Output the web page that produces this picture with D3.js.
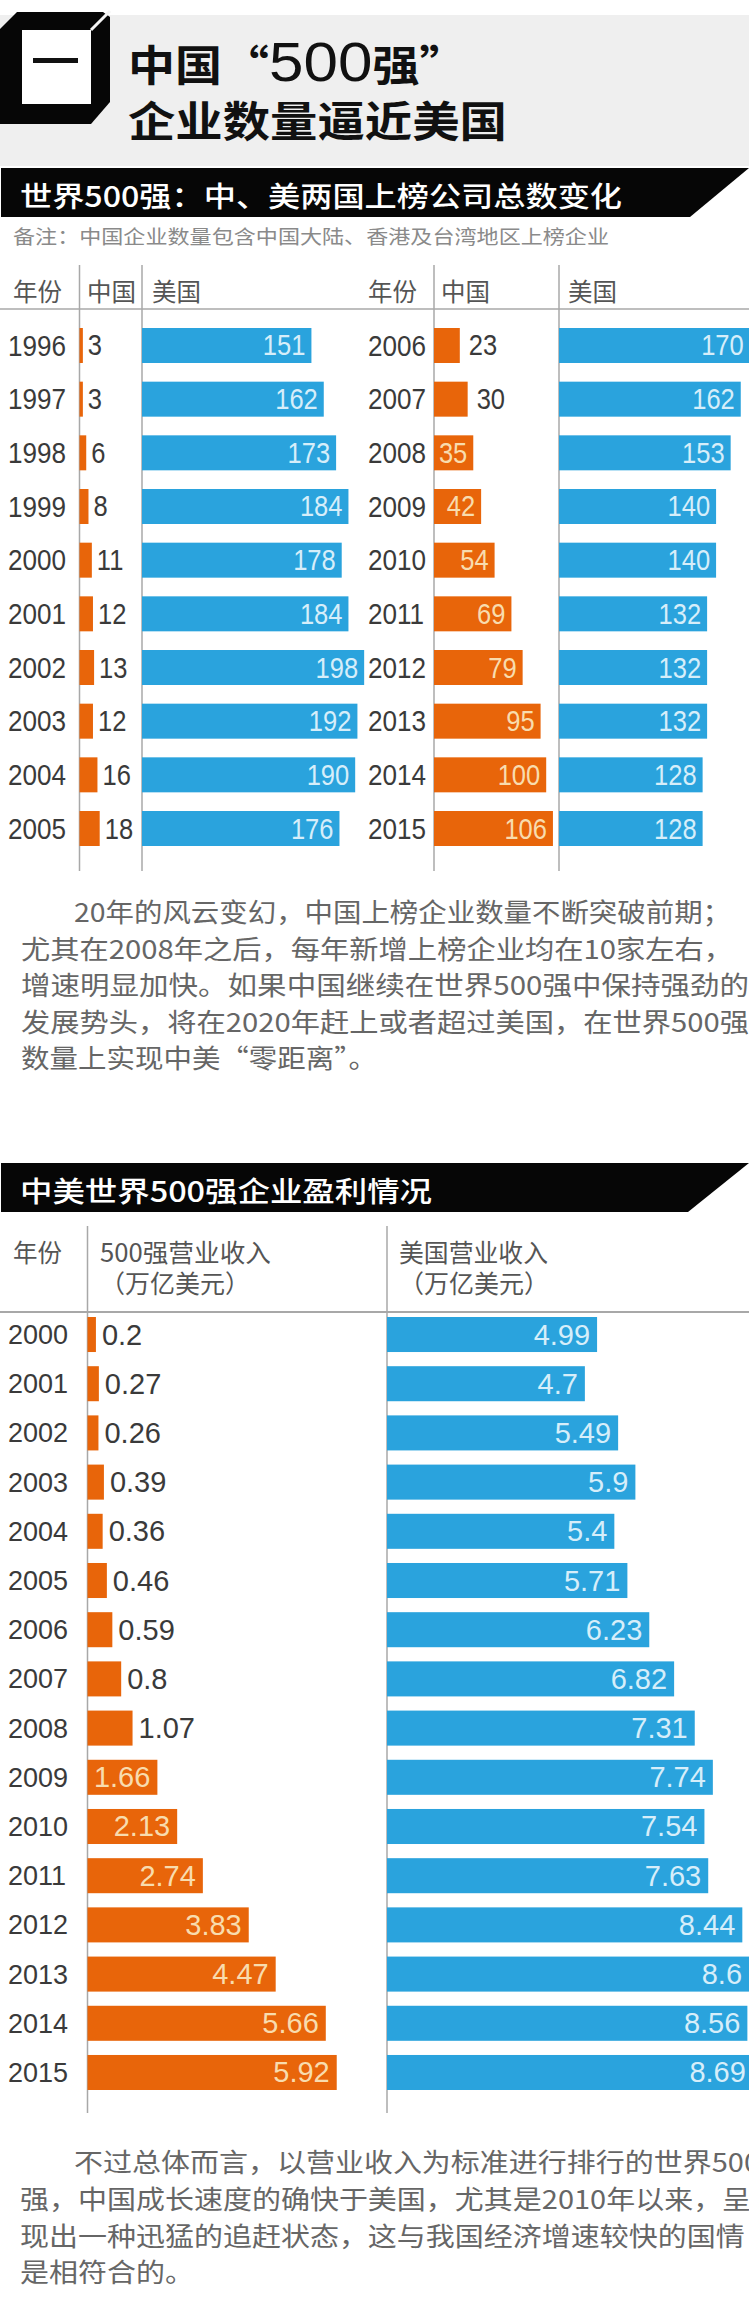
<!DOCTYPE html>
<html>
<head>
<meta charset="utf-8">
<script src="https://cdn.jsdelivr.net/npm/d3@7"></script>
<style>
    html, body { margin: 0; padding: 0; background: #fff; overflow: hidden; }
    svg { display: block; }
    text { font-family: "Liberation Sans", "Noto Sans CJK SC", sans-serif; }
    .cjk { font-family: "Noto Sans CJK SC", sans-serif; }
</style>
</head>
<body>
<svg id="chart" width="749" height="2324"></svg>
<script>
// Top table: companies on the list per year
const yearsA = [1996, 1997, 1998, 1999, 2000, 2001, 2002, 2003, 2004, 2005];
const chinaA = [3, 3, 6, 8, 11, 12, 13, 12, 16, 18];
const usaA = [151, 162, 173, 184, 178, 184, 198, 192, 190, 176];

const yearsB = [2006, 2007, 2008, 2009, 2010, 2011, 2012, 2013, 2014, 2015];
const chinaB = [23, 30, 35, 42, 54, 69, 79, 95, 100, 106];
const usaB = [170, 162, 153, 140, 140, 132, 132, 132, 128, 128];

// Bottom table: revenue in trillion dollars
const revenueYears = [2000, 2001, 2002, 2003, 2004, 2005, 2006, 2007, 2008, 2009, 2010, 2011, 2012, 2013, 2014, 2015];
const revenueChina = ['0.2', '0.27', '0.26', '0.39', '0.36', '0.46', '0.59', '0.8', '1.07', '1.66', '2.13', '2.74', '3.83', '4.47', '5.66', '5.92'];
const revenueUsa = ['4.99', '4.7', '5.49', '5.9', '5.4', '5.71', '6.23', '6.82', '7.31', '7.74', '7.54', '7.63', '8.44', '8.6', '8.56', '8.69'];

const paragraphA = [
    '20年的风云变幻，中国上榜企业数量不断突破前期；',
    '尤其在2008年之后，每年新增上榜企业均在10家左右，',
    '增速明显加快。如果中国继续在世界500强中保持强劲的',
    '发展势头，将在2020年赶上或者超过美国，在世界500强',
    '数量上实现中美“零距离”。'
];
const paragraphB = [
    '不过总体而言，以营业收入为标准进行排行的世界500',
    '强，中国成长速度的确快于美国，尤其是2010年以来，呈',
    '现出一种迅猛的追赶状态，这与我国经济增速较快的国情',
    '是相符合的。'
];

const BLUE = '#2aa3dd';
const ORANGE = '#e8650a';
const INK = '#3a3a3a';
const RULE = '#a8a8a8';

const svg = d3.select('#chart');

// Text helper, sx/sy squeeze the glyphs a little like the source image
function put(x, y, str, opt) {
    const o = Object.assign({ size: 24, fill: INK, sx: 1, sy: 1, anchor: 'start', weight: 400, cjk: true }, opt);
    const t = svg.append('text')
        .attr('transform', `translate(${x},${y}) scale(${o.sx},${o.sy})`)
        .attr('class', o.cjk ? 'cjk' : null)
        .attr('font-size', o.size)
        .attr('font-weight', o.weight)
        .attr('text-anchor', o.anchor)
        .attr('fill', o.fill)
        .text(str);
    if (o.width) t.attr('textLength', o.width / o.sx).attr('lengthAdjust', 'spacingAndGlyphs');
    return t;
}

function sectionBar(top, right, label, labelWidth) {
    svg.append('polygon')
        .attr('points', [[1, top], [749, top], [right, top + 49], [1, top + 49]].join(' '))
        .attr('fill', '#060606');
    put(20, top + 39, label, { size: 32, sy: 0.88, fill: '#fff', weight: 500, width: labelWidth });
}

// One column of bars, label sits inside when the bar is long enough
function barColumn(opt) {
    const g = svg.append('g').attr('transform', `translate(${opt.x0},0)`);
    const data = opt.values.map((v, i) => ({ key: opt.keys[i], label: v, value: +v }));

    g.selectAll('rect')
        .data(data)
        .enter()
        .append('rect')
        .attr('x', 0)
        .attr('y', d => opt.y(d.key))
        .attr('width', d => opt.x(d.value))
        .attr('height', opt.y.bandwidth())
        .attr('fill', opt.color);

    g.selectAll('text')
        .data(data)
        .enter()
        .append('text')
        .attr('transform', d => {
            const inside = d.value >= opt.insideFrom;
            const px = inside ? opt.x(d.value) - opt.inset : opt.x(d.value) + opt.outset;
            const py = opt.y(d.key) + opt.y.bandwidth() / 2 + opt.base;
            return `translate(${px},${py}) scale(${opt.sx},1)`;
        })
        .attr('text-anchor', d => (d.value >= opt.insideFrom ? 'end' : 'start'))
        .attr('font-size', opt.size)
        .attr('fill', d => (d.value >= opt.insideFrom ? opt.pale : INK))
        .text(d => d.label);
}

// Year labels are left aligned in the source, so the axis text is re-anchored
function yearAxis(xLeft, y, size, sx) {
    const axis = d3.axisLeft(y).tickSize(0).tickPadding(0).tickFormat(d3.format('d'));
    const g = svg.append('g').attr('transform', `translate(${xLeft},0)`).call(axis);
    g.select('.domain').remove();
    g.selectAll('text')
        .attr('x', 0)
        .attr('dy', '0.35em')
        .attr('text-anchor', 'start')
        .attr('font-family', '"Liberation Sans", sans-serif')
        .attr('font-size', size)
        .attr('fill', INK)
        .attr('transform', `scale(${sx},1)`);
}

function vRule(x, y1, y2) {
    svg.append('line').attr('x1', x).attr('x2', x).attr('y1', y1).attr('y2', y2)
        .attr('stroke', RULE).attr('stroke-width', 1.5);
}

function hRule(y, width) {
    svg.append('line').attr('x1', 0).attr('x2', 749).attr('y1', y).attr('y2', y)
        .attr('stroke', RULE).attr('stroke-width', width);
}

function drawHeader() {
    svg.append('rect').attr('x', 0).attr('y', 15).attr('width', 749).attr('height', 151).attr('fill', '#efefef');

    // Black box icon, the cut corner is a light diagonal
    svg.append('polygon')
        .attr('points', '17,12 103,12 110,17 110,102 91,124 0,124 0,29')
        .attr('fill', '#060606');
    svg.append('rect').attr('x', 22).attr('y', 30).attr('width', 69).attr('height', 74).attr('fill', '#fff');
    svg.append('line').attr('x1', 91).attr('y1', 30).attr('x2', 110).attr('y2', 11)
        .attr('stroke', '#f4f4f4').attr('stroke-width', 3);
    svg.append('rect').attr('x', 33).attr('y', 58).attr('width', 45).attr('height', 5).attr('fill', '#111');

    const one = put(128, 81, '中国“', { size: 47, sy: 0.9, fill: '#111', weight: 700 });
    one.append('tspan').style('font-family', '"Liberation Sans"').attr('font-size', 62)
        .attr('font-weight', 400).text('500');
    one.append('tspan').text('强”');
    put(128, 137, '企业数量逼近美国', { size: 47, sy: 0.9, fill: '#111', weight: 700, width: 379 });
}

function drawCounts() {
    sectionBar(168, 690, '世界500强：中、美两国上榜公司总数变化', 602);
    put(13, 244, '备注：中国企业数量包含中国大陆、香港及台湾地区上榜企业', { size: 22, sy: 0.9, fill: '#8a8a8a', width: 596 });

    [[13, '年份'], [87, '中国'], [152, '美国'], [368, '年份'], [441, '中国'], [568, '美国']].forEach(h => {
        put(h[0], 301, h[1], { size: 24.5, fill: '#555' });
    });

    [79.5, 142, 434, 559].forEach(x => vRule(x, 265, 871));
    hRule(309, 1.5);

    const x = d3.scaleLinear().domain([0, 200]).range([0, 224.4]);
    const yA = d3.scaleBand().domain(yearsA).range([328, 846]).paddingInner(0.348);
    const yB = d3.scaleBand().domain(yearsB).range([328, 846]).paddingInner(0.348);

    yearAxis(8, yA, 29, 0.9);
    yearAxis(368, yB, 29, 0.9);

    const shared = { x: x, size: 29, sx: 0.88, base: 10, inset: 6, outset: 5, insideFrom: 32 };
    barColumn(Object.assign({}, shared, { x0: 79.5, y: yA, keys: yearsA, values: chinaA, color: ORANGE, pale: '#f8dcae' }));
    barColumn(Object.assign({}, shared, { x0: 142, y: yA, keys: yearsA, values: usaA, color: BLUE, pale: '#d6eefa', insideFrom: 0 }));
    barColumn(Object.assign({}, shared, { x0: 434, y: yB, keys: yearsB, values: chinaB, color: ORANGE, pale: '#f8dcae', outset: 9 }));
    barColumn(Object.assign({}, shared, { x0: 559, y: yB, keys: yearsB, values: usaB, color: BLUE, pale: '#d6eefa', insideFrom: 0 }));

    paragraphA.forEach((line, i) => {
        put(i === 0 ? 74 : 21, 922 + i * 36.6, line, { size: 29, sy: 0.9, fill: '#666', width: [657, 712, 728, 728, 356][i] });
    });
}

function drawRevenue() {
    sectionBar(1163, 688, '中美世界500强企业盈利情况', 412);

    put(13, 1262, '年份', { size: 24.5, fill: '#555' });
    put(100, 1262, '500强营业收入', { size: 25, fill: '#555', width: 171 });
    put(100, 1293, '（万亿美元）', { size: 25, fill: '#555' });
    put(399, 1262, '美国营业收入', { size: 25, fill: '#555', width: 149 });
    put(399, 1293, '（万亿美元）', { size: 25, fill: '#555' });

    [87.5, 387].forEach(x => vRule(x, 1226, 2113));
    hRule(1312, 2);

    const x = d3.scaleLinear().domain([0, 10]).range([0, 421]);
    const y = d3.scaleBand().domain(revenueYears).range([1317, 2090]).paddingInner(0.288);

    yearAxis(8, y, 27, 1);

    const shared = { x: x, y: y, keys: revenueYears, size: 29, sx: 1, base: 10, inset: 7, outset: 6 };
    barColumn(Object.assign({}, shared, { x0: 87.5, values: revenueChina, color: ORANGE, pale: '#f8dcae', insideFrom: 1.5 }));
    barColumn(Object.assign({}, shared, { x0: 387, values: revenueUsa, color: BLUE, pale: '#d6eefa', insideFrom: 0 }));

    paragraphB.forEach((line, i) => {
        put(i === 0 ? 74 : 20, 2172 + i * 36.8, line, { size: 29, sy: 0.9, fill: '#666' });
    });
}

drawHeader();
drawCounts();
drawRevenue();
</script>
</body>
</html>
